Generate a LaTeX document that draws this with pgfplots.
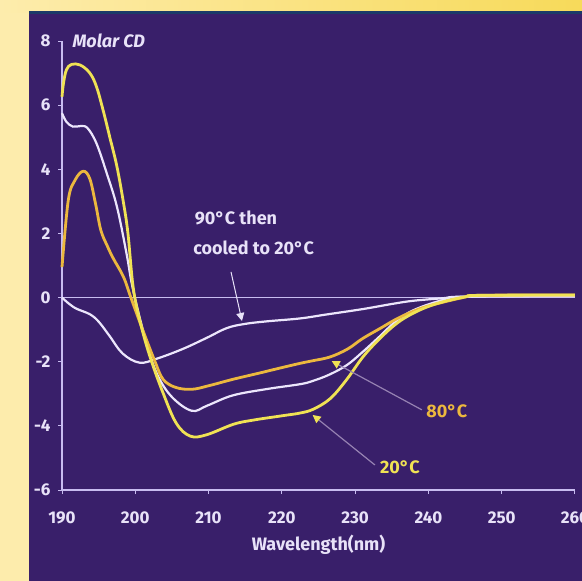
\documentclass[border=0pt]{standalone}
\usepackage{fontspec}
\setmainfont{Fira Sans}
\usepackage{pgfplots}
\pgfplotsset{compat=1.18}
\usetikzlibrary{arrows.meta}
\definecolor{panel}{RGB}{57,31,106}
\definecolor{pale}{RGB}{253,236,172}
\definecolor{goldtop}{RGB}{247,218,90}
\definecolor{stripe}{RGB}{28,58,104}
\definecolor{axiscol}{RGB}{200,188,240}
\definecolor{labcol}{RGB}{232,226,248}
\definecolor{ytwenty}{RGB}{240,226,84}
\definecolor{yeighty}{RGB}{236,184,62}
\definecolor{wcurve}{RGB}{236,230,252}
\definecolor{leader}{RGB}{150,130,178}
\begin{document}
\begin{tikzpicture}
\useasboundingbox (0pt,0pt) rectangle (582pt,-581pt);
\clip (0pt,0pt) rectangle (582pt,-581pt);
\fill[pale] (0pt,0pt) rectangle (582pt,-581pt);
\shade[left color=pale, right color=goldtop] (0pt,0pt) rectangle (582pt,-12pt);
\fill[panel] (29pt,-12pt) rectangle (582pt,-581pt);
\fill[stripe] (29pt,-11pt) rectangle (582pt,-13.5pt);
\begin{axis}[
  at={(62pt,-490pt)}, anchor=south west,
  scale only axis, width=513pt, height=449pt,
  xmin=190, xmax=260, ymin=-6, ymax=8,
  axis x line*=bottom, axis y line*=left,
  axis line style={axiscol, line width=1.2pt},
  xtick={190,200,...,260}, ytick={-6,-4,...,8},
  tick style={axiscol, line width=1pt},
  major tick length=4pt, tick align=outside,
  /pgf/number format/assume math mode=true,
  ticklabel style={font=\fontsize{17}{20}\selectfont\bfseries, text=labcol},
  xticklabel style={yshift=-14pt},
  yticklabel style={xshift=-4pt},
  xlabel={Wavelength(nm)},
  xlabel style={at={(axis description cs:0.5,0)}, anchor=north, yshift=-41pt,
    font=\fontsize{18}{21}\selectfont\bfseries, text=labcol},
  ylabel={Molar CD},
  every axis y label/.style={at={(axis description cs:0,1)}, anchor=west, xshift=7pt,
    font=\fontsize{18}{21}\selectfont\bfseries\itshape, text=labcol},
  clip=false,
]
\addplot[axiscol, line width=1.2pt] coordinates {(190,0) (260,0)};
% 90C then cooled to 20C
\addplot[wcurve, line width=2.2pt, smooth, tension=0.6] coordinates {
(190,0) (191,-0.2) (192,-0.35) (193.8,-0.52) (195,-0.75) (196.5,-1.2) (198.3,-1.75)
(200.6,-2.03) (203,-1.9) (206.5,-1.6) (209.8,-1.25) (212.5,-0.95) (215,-0.82)
(218,-0.74) (222.5,-0.65) (226,-0.53) (231,-0.36) (235,-0.2) (237.9,-0.1)
(242,-0.02) (245,0.03) (260,0.05)};
% white (unlabelled)
\addplot[wcurve, line width=2.2pt, smooth, tension=0.6] coordinates {
(190,5.75) (190.6,5.48) (191.5,5.33) (192.6,5.35) (193.5,5.28) (194.7,4.81)
(196.1,3.88) (197.5,2.83) (198.8,1.38) (199.7,0.24) (201.5,-1.4) (203,-2.4)
(205,-3.1) (207.7,-3.53) (209.8,-3.37) (213.3,-3.05) (218,-2.85) (222.5,-2.7)
(224.2,-2.6) (226.5,-2.4) (228.9,-2.1) (231,-1.7) (233.4,-1.2) (235.5,-0.75)
(237.9,-0.4) (241.6,-0.1) (245,0.03) (260,0.06)};
% 80C
\addplot[yeighty, line width=2.8pt, smooth, tension=0.6] coordinates {
(190,0.95) (190.86,3.04) (191.8,3.67) (192.9,3.94) (193.8,3.7) (194.6,2.9)
(195.3,2.1) (196.2,1.6) (197,1.22) (198.4,0.64) (199.4,0) (201,-1.0)
(202.7,-2.0) (203.8,-2.55) (205.5,-2.8) (207.7,-2.86) (210,-2.75) (213.3,-2.55)
(217,-2.35) (219.7,-2.2) (222.5,-2.05) (224.2,-1.97) (226.6,-1.85) (229,-1.6)
(231,-1.28) (233.5,-0.95) (235.7,-0.66) (238,-0.42) (240.2,-0.25) (244.7,0)
(247,0.07) (260,0.08)};
% 20C
\addplot[ytwenty, line width=2.8pt, smooth, tension=0.6] coordinates {
(190,6.26) (190.2,6.68) (190.6,7.1) (191.3,7.27) (192.5,7.25) (193.8,7.0)
(194.7,6.58) (195.6,5.85) (196.5,5.02) (197.5,4.08) (198.4,2.94) (199.0,2.0)
(199.7,0.34) (200.6,-0.7) (202.0,-1.84) (203.8,-2.98) (205.6,-3.92) (207.5,-4.32)
(209.7,-4.28) (213.4,-3.95) (216.1,-3.82) (220.2,-3.68) (222.5,-3.6) (224.3,-3.48)
(226.6,-3.15) (228.8,-2.57) (231.1,-1.84) (233.4,-1.27) (235.7,-0.8) (237.9,-0.49)
(240.2,-0.26) (242.5,-0.1) (245.2,0.03) (247,0.07) (260,0.08)};
% annotations
\node[anchor=west, inner sep=0pt, text=labcol, font=\fontsize{18}{21}\selectfont\bfseries] at (axis cs:208.1,2.47) {90°C then};
\node[anchor=west, inner sep=0pt, text=labcol, font=\fontsize{18}{21}\selectfont\bfseries] at (axis cs:207.9,1.56) {cooled to 20°C};
\draw[labcol, line width=1pt, -{Triangle[width=8pt,length=8pt]}] (axis cs:213.06,0.80) -- (axis cs:214.56,-0.73);
\draw[leader, line width=1.2pt, -{Triangle[width=8pt,length=8pt,color=ytwenty]}] (axis cs:239.1,-3.5) -- (axis cs:226.8,-1.98);
\draw[leader, line width=1.2pt, -{Triangle[width=8pt,length=8pt,color=ytwenty]}] (axis cs:232.7,-5.22) -- (axis cs:224.2,-3.66);
\node[text=yeighty, inner sep=0pt, font=\fontsize{18}{21}\selectfont\bfseries] at (axis cs:242.5,-3.54) {80°C};
\node[text=ytwenty, inner sep=0pt, font=\fontsize{18}{21}\selectfont\bfseries] at (axis cs:236.1,-5.28) {20°C};
\end{axis}
\end{tikzpicture}
\end{document}
